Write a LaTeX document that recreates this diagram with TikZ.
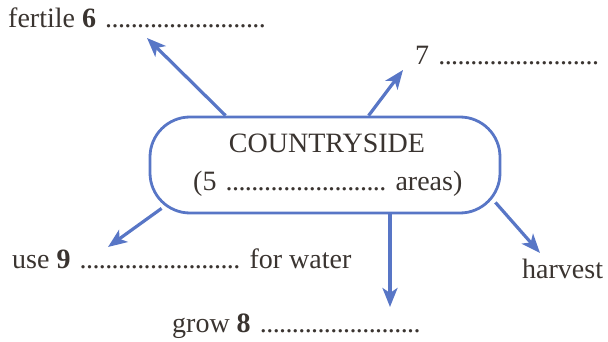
\documentclass[tikz,border=0pt]{standalone}
\usepackage{fontspec}
\setmainfont{Liberation Serif}
\usetikzlibrary{calc, positioning, arrows.meta}
\definecolor{mapblue}{RGB}{88,118,198}
\definecolor{inkgray}{RGB}{58,52,48}
\newcommand\answerline{\hbox to 165pt{\cleaders\hbox to 6.4pt{\hss.\hss}\hfill}}

\begin{document}
\begin{tikzpicture}[x=1pt, y=-1pt,
    word/.style={font=\fontsize{28}{32}\selectfont, text=inkgray, inner sep=0pt, anchor=base west},
    spoke/.style={draw=mapblue, line width=3.2pt, -{Stealth[length=19pt, width=15pt, inset=5pt]}}]
    \useasboundingbox (0,0) rectangle (608,342);

    % Draw the central rounded box with its two lines of text
    \node[draw=mapblue, line width=2.8pt, rounded corners=40pt, minimum width=350pt, minimum height=96pt, inner sep=0pt] (country) at (325,165) {};
    \node[word, anchor=base] (title) at (327,153) {COUNTRYSIDE};
    \node[word] (areas) at (193,190) {(5 \answerline\ areas)};

    % The words round the box
    \node[word] (fertile) at (8,28) {fertile \textbf{6} \answerline};
    \node[word] (seven) at (415,65) {7 \answerline};
    \node[word] (water) at (12,268) {use \textbf{9} \answerline\ for water};
    \node[word] (harvest) at (522,278) {harvest};
    \node[word] (grow) at (172,332) {grow \textbf{8} \answerline};

    % Arrow tips
    \coordinate (tip6) at (147,38);
    \coordinate (tip7) at (403,70);
    \coordinate (tip9) at (108,247);
    \coordinate (tip8) at (390,307);
    \coordinate (tipH) at (540,253);

    % Draw the arrows out of the box
    \draw[spoke] ($(country.north west)+(77,0)$) -- (tip6);
    \draw[spoke] ($(country.north west)+(220,0)$) -- (tip7);
    \draw[spoke] ($(country.south west)+(13,-6)$) -- (tip9);
    \draw[spoke] ($(country.south)+(65,0)$) -- (tip8);
    \draw[spoke] ($(country.south east)+(-6,-12)$) -- (tipH);

\end{tikzpicture}
\end{document}
